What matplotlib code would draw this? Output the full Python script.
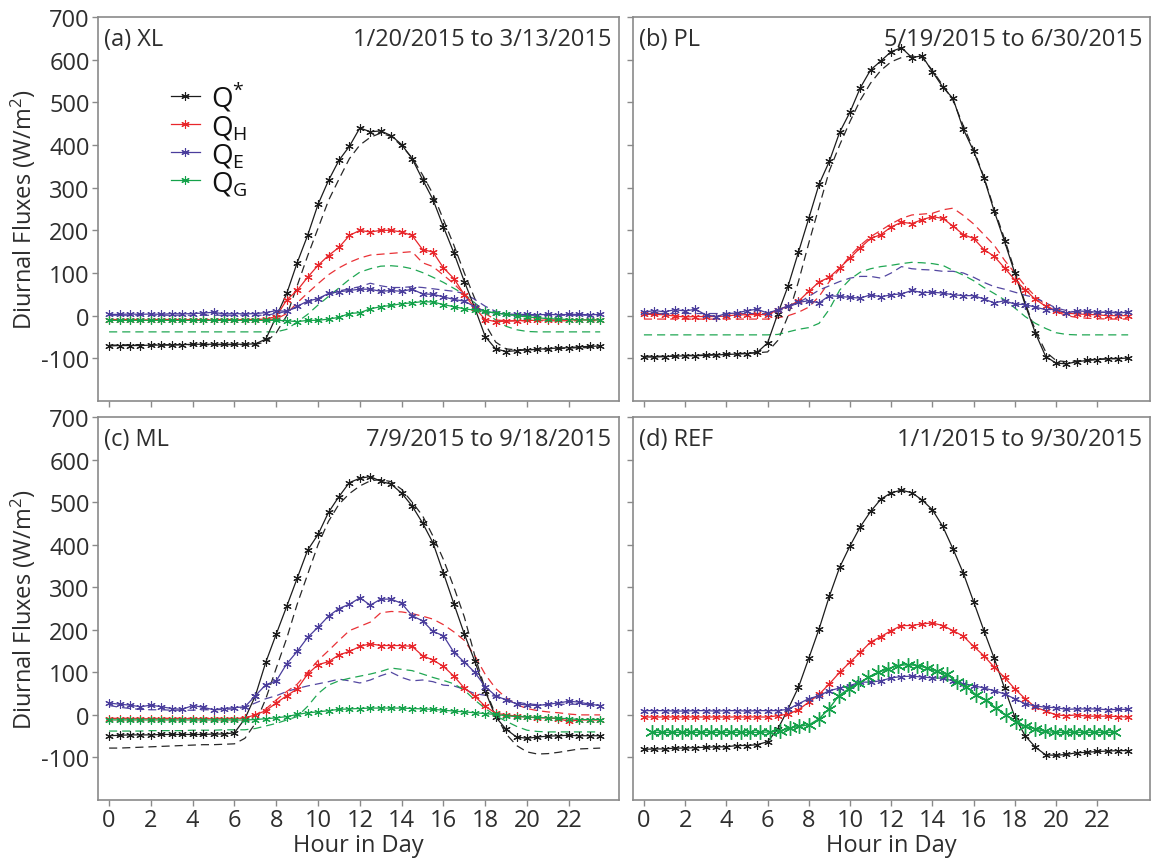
import numpy as np
import matplotlib
matplotlib.use("Agg")
import matplotlib.pyplot as plt

plt.rcParams['font.family'] = ['Open Sans', 'DejaVu Sans']
plt.rcParams['mathtext.fontset'] = 'custom'
plt.rcParams['mathtext.rm'] = 'Open Sans'
plt.rcParams['mathtext.it'] = 'Open Sans'

# ---------------- data (half-hourly diurnal means, W/m2) ----------------
hours = np.arange(48) * 0.5
hours_g_ref = np.linspace(0.4, 22.8, 48)

# (a) XL
a_qstar = [-71,-70,-70,-70,-69,-69,-69,-68,-67,-67,-67,-67,-67,-67,-66,-55,-2,52,124,188,261,317,364,397,
           440,431,433,422,401,368,319,272,208,147,80,18,-49,-78,-84,-82,-80,-79,-77,-76,-75,-73,-72,-71]
a_qstar_m = [-69,-69,-68,-68,-68,-68,-68,-68,-68,-68,-68,-68,-68,-68,-67,-62,-40,0,70,140,205,270,320,368,
             400,418,428,420,398,370,330,285,225,165,100,40,-20,-62,-78,-80,-80,-79,-78,-77,-76,-75,-75,-74]
a_qh = [-10,-10,-9,-10,-10,-9,-10,-10,-9,-10,-10,-10,-10,-9,-9,-8,-2,37,59,90,118,141,160,188,
        200,196,200,200,196,188,155,149,112,87,49,18,-9,-14,-13,-12,-11,-11,-10,-10,-10,-10,-10,-10]
a_qh_m = [-9,-9,-9,-9,-9,-9,-9,-9,-9,-9,-9,-9,-9,-9,-9,-9,-8,5,30,53,75,96,112,125,
          135,142,144,146,148,150,124,115,95,75,50,25,5,-10,-12,-12,-12,-12,-12,-12,-12,-12,-12,-12]
a_qe = [3,3,4,3,4,3,5,4,5,6,8,4,5,4,5,7,12,10,22,34,40,52,56,59,
        62,62,57,59,57,62,51,50,44,38,34,21,10,6,4,3,3,2,3,2,3,3,2,3]
a_qe_m = [1,1,1,1,1,1,1,1,1,1,1,1,1,1,1,1,5,10,20,30,40,50,58,63,
          68,76,70,66,66,68,66,63,60,57,52,38,22,10,3,1,1,1,1,1,1,1,1,1]
a_qg = [-11,-11,-11,-11,-11,-11,-11,-11,-11,-11,-11,-11,-11,-11,-11,-11,-11,-12,-14,-11,-11,-8,-4,5,
        7,16,21,24,28,30,33,32,26,21,16,13,10,6,3,0,-3,-5,-7,-8,-9,-10,-10,-10]
a_qg_m = [-38,-38,-38,-38,-38,-38,-38,-38,-38,-38,-38,-38,-38,-38,-38,-38,-38,-32,-15,3,25,45,65,85,
          102,110,116,117,115,110,101,90,78,64,50,30,8,-10,-25,-33,-37,-38,-38,-38,-38,-38,-38,-38]

# (b) PL
b_qstar = [-97,-97,-96,-95,-94,-94,-93,-92,-91,-90,-89,-86,-64,5,70,149,228,308,362,430,477,534,576,597,
           619,628,605,609,572,536,509,437,386,323,245,174,100,26,-41,-96,-111,-113,-108,-105,-103,-101,-101,-99]
b_qstar_m = [-95,-95,-95,-94,-93,-93,-92,-91,-90,-89,-88,-87,-85,-58,0,80,170,255,340,400,455,505,545,575,
             595,605,609,605,575,540,505,445,390,325,250,180,105,30,-35,-85,-105,-108,-106,-104,-102,-101,-100,-99]
b_qh = [3,3,2,-1,-3,-2,-2,-2,-1,2,2,3,2,14,22,34,57,79,90,112,135,159,181,190,
        208,219,216,225,232,228,210,190,181,155,139,112,84,61,38,22,10,6,4,3,2,0,0,0]
b_qh_m = [-8,-8,-8,-8,-8,-8,-8,-8,-8,-8,-8,-8,-8,-5,0,8,20,45,80,110,140,165,185,200,
          215,228,236,238,240,248,252,235,215,190,165,130,100,70,45,25,10,0,-4,-6,-7,-8,-8,-8]
b_qe = [8,12,9,14,11,15,2,-2,5,6,12,15,6,14,23,31,35,30,47,45,43,41,49,44,
        49,51,59,54,55,53,49,47,47,39,30,35,27,26,20,14,15,6,11,10,8,8,6,8]
b_qe_m = [5,5,5,5,5,5,5,5,5,5,5,5,5,10,20,30,45,60,70,80,88,92,92,88,
          100,115,110,108,107,104,104,100,90,78,68,62,55,48,42,30,18,12,8,8,8,8,8,8]
b_qg_m = [-45,-45,-45,-45,-45,-45,-45,-45,-45,-45,-45,-45,-45,-44,-38,-32,-28,-18,15,60,85,102,110,115,
          118,122,125,124,122,118,106,95,82,66,52,37,18,-2,-18,-30,-40,-44,-45,-45,-45,-45,-45,-45]

# (c) ML
c_qstar = [-49,-48,-47,-47,-47,-46,-46,-46,-46,-46,-45,-45,-42,-9,45,124,190,255,321,387,424,476,513,546,
           556,560,549,542,521,491,451,404,333,261,190,126,56,-5,-34,-52,-55,-52,-50,-49,-48,-49,-49,-49]
c_qstar_m = [-78,-78,-77,-76,-75,-74,-73,-72,-71,-70,-70,-69,-68,-55,-20,38,110,180,260,330,400,455,495,520,
             538,550,553,548,530,500,468,420,365,300,230,139,60,0,-45,-72,-87,-92,-91,-88,-84,-80,-79,-78]
c_qh = [-9,-9,-9,-9,-9,-9,-9,-9,-9,-9,-9,-9,-9,-7,0,10,28,45,61,96,118,125,141,149,
        161,167,163,163,163,161,139,129,114,91,63,44,20,4,0,-3,-5,-7,-7,-9,-15,-12,-12,-12]
c_qh_m = [-8,-8,-8,-8,-8,-8,-8,-8,-8,-8,-8,-8,-8,-8,0,14,35,55,72,100,128,151,175,198,
          208,218,240,243,242,238,232,225,212,195,175,139,95,62,40,24,15,10,7,5,2,0,0,0]
c_qe = [28,25,23,19,23,19,15,13,22,18,12,15,17,19,45,71,80,120,149,182,206,232,250,260,
        275,258,272,272,262,233,221,196,186,147,124,100,66,45,35,26,23,22,25,28,32,30,25,22]
c_qe_m = [22,18,15,13,12,12,11,11,11,12,12,13,14,18,28,38,45,55,62,68,73,78,84,80,
          75,82,92,100,88,80,82,78,70,68,60,50,46,44,36,30,26,24,24,25,25,25,24,22]
c_qg = [-12,-12,-12,-12,-12,-12,-12,-12,-12,-12,-12,-12,-12,-12,-11,-9,-7,-4,1,5,7,10,13,14,
        15,16,16,16,16,15,14,13,11,9,7,5,3,1,-2,-4,-5,-6,-7,-8,-9,-11,-11,-11]
c_qg_m = [-38,-38,-38,-38,-37,-37,-37,-37,-36,-36,-36,-35,-35,-35,-32,-26,-20,-12,-4,20,50,70,80,86,
          91,96,102,110,107,104,96,88,81,73,58,35,15,-2,-15,-27,-36,-39,-40,-40,-40,-40,-40,-40]

# (d) REF
d_qstar = [-81,-80,-80,-78,-78,-77,-76,-75,-75,-72,-72,-70,-63,-33,14,65,133,202,279,347,397,442,478,507,
           522,528,522,505,482,443,390,333,266,198,133,63,-5,-49,-76,-94,-95,-93,-89,-88,-86,-85,-84,-84]
d_qh = [-5,-5,-5,-5,-5,-5,-5,-5,-5,-5,-5,-5,-5,-2,2,12,30,48,73,100,124,147,171,184,
        198,210,210,214,216,210,198,185,161,139,112,88,61,38,18,9,0,-2,0,-3,-3,-3,-4,-5]
d_qe = [10,10,10,9,9,10,10,9,10,10,9,10,10,10,13,26,38,45,57,63,69,77,77,80,
        87,90,91,89,87,86,80,73,69,63,57,49,38,26,21,18,17,13,14,14,14,12,13,13]
d_qg = [-41,-41,-41,-41,-41,-41,-41,-41,-41,-41,-41,-41,-40,-38,-31,-27,-23,-9,14,45,61,74,88,100,
        108,116,118,116,110,102,95,78,66,47,34,16,0,-16,-27,-33,-39,-41,-41,-41,-41,-41,-41,-41]

panel_labels = ["(a) XL", "(b) PL", "(c) ML", "(d) REF"]
panel_dates = ["1/20/2015 to 3/13/2015", "5/19/2015 to 6/30/2015",
               "7/9/2015 to 9/18/2015", "1/1/2015 to 9/30/2015"]
series_names = [r"Q$^{*}$", r"Q$_{\mathrm{H}}$", r"Q$_{\mathrm{E}}$", r"Q$_{\mathrm{G}}$"]
xtick_vals = list(range(0, 23, 2))
ytick_vals = list(range(-100, 701, 100))

# ---------------- styling ----------------
C_STAR = "#1c1c1c"
C_H = "#e8262b"
C_E = "#4a3d9c"
C_G = "#14a24a"
TXT = "#2e2e2e"
SPINE = "#8a8a8a"
AST = (6, 2, 0)
FS = 17

W, H = 1151, 862
fig = plt.figure(figsize=(W / 100, H / 100), dpi=100)

def frac_rect(x0, y0, x1, y1):
    return [x0 / W, 1 - y1 / H, (x1 - x0) / W, (y1 - y0) / H]

rects = [frac_rect(98, 18, 619, 402), frac_rect(633, 18, 1150, 402),
         frac_rect(98, 418, 619, 801), frac_rect(633, 418, 1150, 801)]
xlims = [(-0.53, 24.4), (-0.53, 24.56), (-0.53, 24.4), (-0.53, 24.56)]

axes = [fig.add_axes(r) for r in rects]

def obs(ax, x, y, c, ms=6.0, lw=0.9, mew=0.8):
    ax.plot(x, y, color=c, lw=lw, marker=AST, ms=ms, mew=mew, mec=c, zorder=3)

def mod(ax, x, y, c):
    ax.plot(x, y, color=c, lw=0.9, ls=(0, (6.5, 4)), zorder=2, alpha=0.95)

# (a)
ax = axes[0]
mod(ax, hours, a_qstar_m, C_STAR)
mod(ax, hours, a_qh_m, C_H)
mod(ax, hours, a_qe_m, C_E)
mod(ax, hours, a_qg_m, C_G)
obs(ax, hours, a_qstar, C_STAR)
obs(ax, hours, a_qh, C_H)
obs(ax, hours, a_qe, C_E)
obs(ax, hours, a_qg, C_G)

# (b)
ax = axes[1]
mod(ax, hours, b_qstar_m, C_STAR)
mod(ax, hours, b_qh_m, C_H)
mod(ax, hours, b_qe_m, C_E)
mod(ax, hours, b_qg_m, C_G)
obs(ax, hours, b_qstar, C_STAR)
obs(ax, hours, b_qh, C_H)
obs(ax, hours, b_qe, C_E)

# (c)
ax = axes[2]
mod(ax, hours, c_qstar_m, C_STAR)
mod(ax, hours, c_qh_m, C_H)
mod(ax, hours, c_qe_m, C_E)
mod(ax, hours, c_qg_m, C_G)
obs(ax, hours, c_qstar, C_STAR)
obs(ax, hours, c_qh, C_H)
obs(ax, hours, c_qe, C_E)
obs(ax, hours, c_qg, C_G)

# (d)
ax = axes[3]
obs(ax, hours, d_qstar, C_STAR)
obs(ax, hours, d_qh, C_H)
obs(ax, hours, d_qe, C_E)
obs(ax, hours_g_ref, d_qg, C_G, ms=10.5, lw=1.0, mew=1.0)

for i, ax in enumerate(axes):
    ax.set_xlim(*xlims[i])
    ax.set_ylim(-200, 700)
    ax.set_xticks(xtick_vals)
    ax.set_yticks(ytick_vals)
    ax.set_xticklabels([str(v) for v in xtick_vals])
    ax.set_yticklabels([str(v) for v in ytick_vals])
    for s in ax.spines.values():
        s.set_color(SPINE)
        s.set_linewidth(1.2)
    ax.tick_params(direction='out', length=4, width=1.0, color=SPINE,
                   labelsize=FS, labelcolor=TXT, pad=2)
    ax.tick_params(axis='x', pad=2)
    if i in (0, 1):
        ax.tick_params(labelbottom=False)
    if i in (1, 3):
        ax.tick_params(labelleft=False)
    ax.text(0.012, 0.943, panel_labels[i], transform=ax.transAxes,
            ha='left', va='center', fontsize=FS, color=TXT)
    ax.text(0.985, 0.943, panel_dates[i], transform=ax.transAxes,
            ha='right', va='center', fontsize=FS, color=TXT)

# legend in (a)
handles = axes[0].get_lines()[4:8]
leg = axes[0].legend(handles, series_names, loc='upper left',
                     bbox_to_anchor=(0.118, 0.865), frameon=False,
                     fontsize=20, handlelength=1.05, handletextpad=0.4,
                     labelspacing=0.0, borderaxespad=0)
for t in leg.get_texts():
    t.set_color("#111111")

# axis labels
for r in (rects[0], rects[2]):
    fig.text(23 / W, r[1] + r[3] / 2, "Diurnal Fluxes (W/m$^{2}$)", rotation=90,
             ha='center', va='center', fontsize=FS, color=TXT)
for r in (rects[2], rects[3]):
    fig.text(r[0] + r[2] / 2, 1 - 846 / H, "Hour in Day",
             ha='center', va='center', fontsize=FS, color=TXT)

fig.savefig("out.png", dpi=100)
